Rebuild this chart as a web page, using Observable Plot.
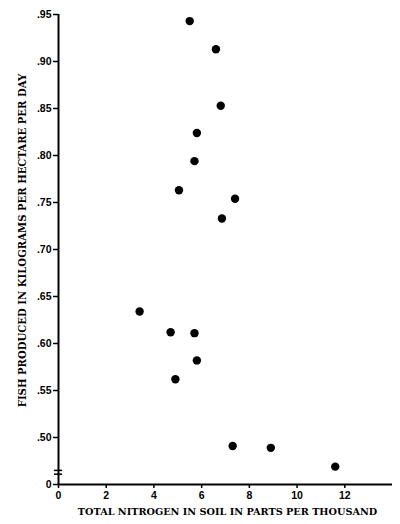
<!DOCTYPE html>
<html><head><meta charset="utf-8">
<script src="https://cdn.jsdelivr.net/npm/d3@7"></script>
<script src="https://cdn.jsdelivr.net/npm/@observablehq/plot@0.6"></script>
<style>
body{margin:0;background:#fff}
#chart svg{display:block}
</style>
</head><body><div id="chart"></div>
<script>
// Data
const nitrogen = [5.5, 6.6, 6.8, 5.8, 5.7, 5.05, 7.4, 6.85, 3.4, 4.7, 5.7, 5.8, 4.9, 7.3, 8.9, 11.6];
const fish     = [.943, .913, .853, .824, .794, .763, .754, .733, .634, .612, .611, .582, .562, .491, .489, .469];

// Axis ticks and labels
const xTicks = [0, 2, 4, 6, 8, 10, 12];
const xTickLabels = ["0", "2", "4", "6", "8", "10", "12"];
const yTicks = [0.45, 0.50, 0.55, 0.60, 0.65, 0.70, 0.75, 0.80, 0.85, 0.90, 0.95];
const yTickLabels = ["0", ".50", ".55", ".60", ".65", ".70", ".75", ".80", ".85", ".90", ".95"];
const yBreakMarks = [0.461, 0.465]; // axis break symbol between 0 and .50

const xTitle = "TOTAL NITROGEN IN SOIL IN PARTS PER THOUSAND";
const yTitle = "FISH PRODUCED IN KILOGRAMS PER HECTARE PER DAY";

const points = nitrogen.map((n, i) => ({n, f: fish[i]}));
const serif = "'DejaVu Serif', 'Liberation Serif', serif";
const sans = "'Liberation Sans', 'DejaVu Sans', sans-serif";

const chart = Plot.plot({
  width: 400,
  height: 524,
  marginLeft: 58,
  marginRight: 8,
  marginTop: 14,
  marginBottom: 40,
  style: {fontFamily: sans, fontSize: "10.5px", fontWeight: "bold", color: "#000", background: "#fff"},
  x: {domain: [0, 14]},
  y: {domain: [0.45, 0.95]},
  marks: [
    Plot.axisX({ticks: xTicks, tickFormat: (d, i) => xTickLabels[i], tickSize: 4, tickPadding: 3, label: null, strokeWidth: 1.5}),
    Plot.axisY({ticks: yTicks, tickFormat: (d, i) => yTickLabels[i], tickSize: 5, tickPadding: 2, label: null, strokeWidth: 1.5}),
    Plot.ruleX([0], {y1: 0.45, y2: 0.95, strokeWidth: 2}),
    Plot.ruleY([0.45], {x1: 0, x2: 14, strokeWidth: 2}),
    Plot.ruleY(yBreakMarks, {x1: -0.17, x2: 0.17, strokeWidth: 1.5}),
    Plot.dot(points, {x: "n", y: "f", r: 4.2, fill: "#000", stroke: null}),
    Plot.text([yTitle], {frameAnchor: "left", textAnchor: "middle", rotate: -90, dx: -36, dy: -9, fontFamily: serif, fontSize: 10.1, fontWeight: "bold"}),
    Plot.text([xTitle], {frameAnchor: "bottom", textAnchor: "middle", dx: 2, dy: 30, fontFamily: serif, fontSize: 9.7, fontWeight: "bold"})
  ]
});
document.getElementById("chart").appendChild(chart);
</script>
</body></html>
